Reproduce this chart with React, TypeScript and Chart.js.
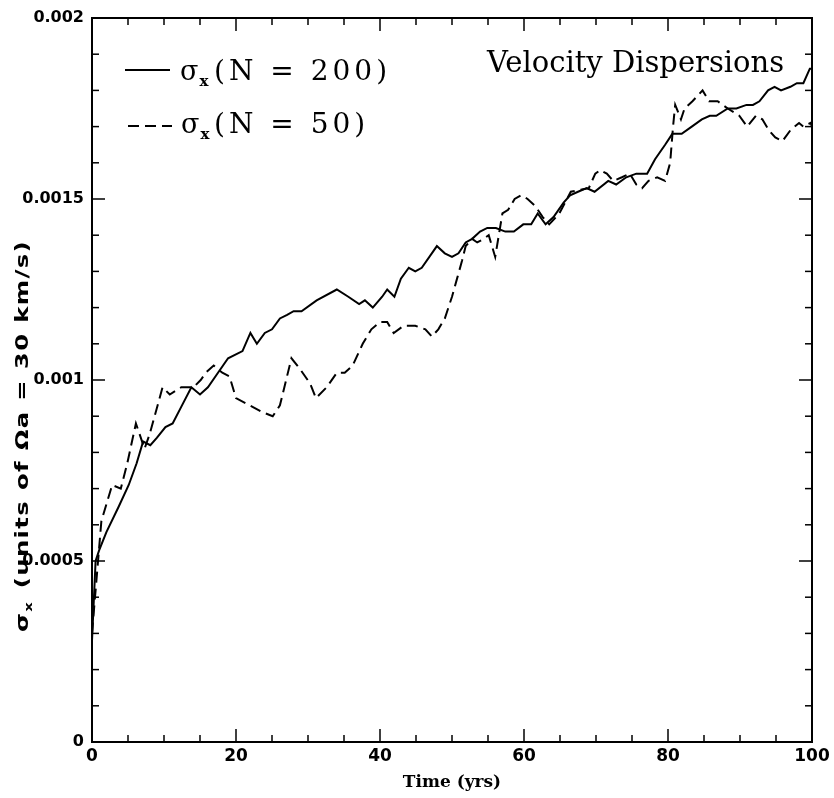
import React, { useEffect, useRef } from 'react';
import { Chart, registerables } from 'chart.js';

Chart.register(...registerables);

// N = 200 run (solid)
const t200 = [0, 0.5, 1.0, 2.0, 3.7, 5.1, 6.2, 7.1, 8.1, 9.0, 10.2, 11.2, 12.5, 13.8, 15.0, 16.1, 17.5, 18.9, 20.9, 22.0, 22.9, 24.0, 25.0, 26.1, 27.1, 28.0, 29.1, 31.2, 34.0, 35.6, 37.1, 37.9, 39.0, 40.3, 41.0, 42.0, 42.9, 44.0, 44.9, 45.8, 47.9, 49.0, 50.0, 50.9, 51.9, 52.8, 53.9, 54.9, 56.1, 57.4, 58.6, 59.9, 61.0, 61.9, 63.0, 64.1, 65.5, 66.4, 67.5, 68.7, 69.8, 71.7, 72.8, 74.2, 75.6, 77.1, 78.2, 79.6, 80.6, 81.9, 83.3, 84.7, 85.8, 86.7, 88.3, 89.5, 90.9, 91.8, 92.7, 93.9, 94.8, 95.7, 97.0, 97.9, 98.8, 99.7, 100];
const v200 = [0.00028, 0.0005, 0.00053, 0.00058, 0.00065, 0.00071, 0.00077, 0.00083, 0.00082, 0.00084, 0.00087, 0.00088, 0.00093, 0.00098, 0.00096, 0.00098, 0.00102, 0.00106, 0.00108, 0.00113, 0.0011, 0.00113, 0.00114, 0.00117, 0.00118, 0.00119, 0.00119, 0.00122, 0.00125, 0.00123, 0.00121, 0.00122, 0.0012, 0.00123, 0.00125, 0.00123, 0.00128, 0.00131, 0.0013, 0.00131, 0.00137, 0.00135, 0.00134, 0.00135, 0.00138, 0.00139, 0.00141, 0.00142, 0.00142, 0.00141, 0.00141, 0.00143, 0.00143, 0.00146, 0.00143, 0.00145, 0.00149, 0.00151, 0.00152, 0.00153, 0.00152, 0.00155, 0.00154, 0.00156, 0.00157, 0.00157, 0.00161, 0.00165, 0.00168, 0.00168, 0.0017, 0.00172, 0.00173, 0.00173, 0.00175, 0.00175, 0.00176, 0.00176, 0.00177, 0.0018, 0.00181, 0.0018, 0.00181, 0.00182, 0.00182, 0.00186, 0.00186];

// N = 50 run (dashed)
const t50 = [0, 1.3, 2.8, 4.0, 4.9, 6.1, 7.3, 8.0, 8.7, 9.8, 10.8, 12.4, 14.1, 15.1, 15.8, 16.9, 18.1, 19.1, 20.0, 21.9, 23.8, 25.1, 26.1, 27.7, 28.9, 30.3, 31.1, 32.6, 34.0, 35.1, 36.2, 37.6, 38.8, 40.0, 41.0, 41.9, 43.3, 44.9, 46.3, 47.2, 48.1, 49.0, 50.0, 50.7, 51.4, 51.9, 52.8, 53.5, 54.4, 55.1, 56.0, 56.5, 57.0, 57.8, 58.7, 59.6, 60.5, 61.6, 62.6, 63.5, 64.9, 66.5, 69.0, 69.9, 70.6, 71.5, 72.4, 73.6, 74.7, 75.6, 76.4, 77.3, 78.5, 79.6, 80.3, 80.7, 81.0, 81.8, 82.3, 83.4, 84.8, 85.7, 86.9, 88.3, 89.9, 91.0, 92.2, 93.1, 94.0, 94.9, 95.9, 97.0, 98.2, 98.8, 99.8, 100];
const v50 = [0.0003, 0.00061, 0.00071, 0.0007, 0.00077, 0.00088, 0.00081, 0.00085, 0.0009, 0.00098, 0.00096, 0.00098, 0.00098, 0.001, 0.00102, 0.00104, 0.00102, 0.00101, 0.00095, 0.00093, 0.00091, 0.0009, 0.00093, 0.00106, 0.00103, 0.00099, 0.00095, 0.00098, 0.00102, 0.00102, 0.00104, 0.0011, 0.00114, 0.00116, 0.00116, 0.00113, 0.00115, 0.00115, 0.00114, 0.00112, 0.00114, 0.00117, 0.00123, 0.00128, 0.00133, 0.00137, 0.00139, 0.00138, 0.00139, 0.0014, 0.00134, 0.0014, 0.00146, 0.00147, 0.0015, 0.00151, 0.0015, 0.00148, 0.00145, 0.00143, 0.00146, 0.00152, 0.00153, 0.00157, 0.00158, 0.00157, 0.00155, 0.00156, 0.00157, 0.00154, 0.00153, 0.00155, 0.00156, 0.00155, 0.0016, 0.0017, 0.00176, 0.00172, 0.00175, 0.00177, 0.0018, 0.00177, 0.00177, 0.00175, 0.00173, 0.0017, 0.00173, 0.00172, 0.00169, 0.00167, 0.00166, 0.00169, 0.00171, 0.0017, 0.00171, 0.0017];

const xMin = 0;
const xMax = 100;
const xStep = 20;
const xMinorStep = 5;
const yMin = 0;
const yMax = 0.002;
const yStep = 0.0005;
const yMinorStep = 0.0001;

const sigma = 'σ';
const sub = 'x';
const legendLabels = ['(N = 200)', '(N = 50)'];
const titleText = 'Velocity Dispersions';
const xTitle = 'Time (yrs)';
const yTitleRest = ' (units of Ωa = 30 km/s)';

export default function App() {
  const ref = useRef<HTMLCanvasElement | null>(null);

  useEffect(() => {
    const canvas = ref.current;
    if (!canvas) return;

    const decor = {
      id: 'decor',
      afterDraw(chart: any) {
        const { ctx, chartArea: a, scales } = chart;
        const x = scales.x;
        const y = scales.y;
        ctx.save();
        ctx.strokeStyle = '#000';
        ctx.fillStyle = '#000';
        ctx.setLineDash([]);
        // frame
        ctx.lineWidth = 2;
        ctx.strokeRect(a.left, a.top, a.right - a.left, a.bottom - a.top);
        // ticks
        ctx.lineWidth = 1.5;
        const seg = (x1: number, y1: number, x2: number, y2: number) => {
          ctx.beginPath();
          ctx.moveTo(x1, y1);
          ctx.lineTo(x2, y2);
          ctx.stroke();
        };
        const nx = Math.round((xMax - xMin) / xMinorStep);
        for (let i = 0; i <= nx; i++) {
          const v = xMin + i * xMinorStep;
          const px = x.getPixelForValue(v);
          const major = i % Math.round(xStep / xMinorStep) === 0;
          const L = major ? 13 : 7;
          seg(px, a.bottom, px, a.bottom - L);
          seg(px, a.top, px, a.top + L);
        }
        const ny = Math.round((yMax - yMin) / yMinorStep);
        for (let i = 0; i <= ny; i++) {
          const v = yMin + i * yMinorStep;
          const py = y.getPixelForValue(v);
          const major = i % Math.round(yStep / yMinorStep) === 0;
          const L = major ? 13 : 7;
          seg(a.left, py, a.left + L, py);
          seg(a.right, py, a.right - L, py);
        }

        // legend samples
        ctx.lineWidth = 2;
        seg(125, 70, 170, 70);
        ctx.setLineDash([11, 6]);
        seg(128, 126, 172, 126);
        ctx.setLineDash([]);

        const drawLegend = (xs: number, base: number, label: string) => {
          ctx.font = '27px "DejaVu Serif"';
          (ctx as any).letterSpacing = '0px';
          ctx.textAlign = 'left';
          ctx.textBaseline = 'alphabetic';
          ctx.fillText(sigma, xs, base);
          const w = ctx.measureText(sigma).width;
          ctx.font = 'bold 15px "DejaVu Serif"';
          ctx.fillText(sub, xs + w + 1, base + 6);
          ctx.font = '28px "DejaVu Serif"';
          (ctx as any).letterSpacing = '4px';
          ctx.fillText(label, 214, base);
          (ctx as any).letterSpacing = '0px';
        };
        drawLegend(180, 80, legendLabels[0]);
        drawLegend(181, 133, legendLabels[1]);

        ctx.font = '29px "DejaVu Serif"';
        ctx.textAlign = 'left';
        ctx.fillText(titleText, 487, 72);

        // x title
        ctx.font = 'bold 17px "DejaVu Serif"';
        ctx.textAlign = 'center';
        ctx.fillText(xTitle, (a.left + a.right) / 2, 787);

        // y title (rotated, stretched along its length)
        ctx.save();
        ctx.translate(21, 436);
        ctx.rotate(-Math.PI / 2);
        ctx.textAlign = 'left';
        const bigFont = 'bold 18px "DejaVu Sans"';
        const subFont = 'bold 11px "DejaVu Sans"';
        (ctx as any).letterSpacing = '1px';
        ctx.font = bigFont;
        const ws = ctx.measureText(sigma).width;
        const wr = ctx.measureText(yTitleRest).width;
        ctx.font = subFont;
        const wsub = ctx.measureText(sub).width;
        const natural = ws + wsub + wr + 2;
        const target = 392;
        const sc = target / natural;
        ctx.scale(sc, 1);
        const start = -natural / 2;
        ctx.font = bigFont;
        ctx.fillText(sigma, start, 7);
        ctx.font = subFont;
        ctx.fillText(sub, start + ws, 11);
        ctx.font = bigFont;
        ctx.fillText(yTitleRest, start + ws + wsub + 2, 7);
        (ctx as any).letterSpacing = '0px';
        ctx.restore();

        ctx.restore();
      },
    };

    const chart = new Chart(canvas, {
      type: 'line',
      data: {
        datasets: [
          {
            label: 'N = 200',
            data: t200.map((t, i) => ({ x: t, y: v200[i] })),
            borderColor: '#000',
            borderWidth: 2,
            pointRadius: 0,
            tension: 0,
            fill: false,
          },
          {
            label: 'N = 50',
            data: t50.map((t, i) => ({ x: t, y: v50[i] })),
            borderColor: '#000',
            borderWidth: 2,
            borderDash: [11, 6],
            pointRadius: 0,
            tension: 0,
            fill: false,
          },
        ],
      },
      options: {
        responsive: false,
        animation: false,
        devicePixelRatio: 1,
        layout: { padding: { top: 18, right: 22, left: 0, bottom: 0 } },
        plugins: {
          legend: { display: false },
          tooltip: { enabled: false },
          title: { display: false },
        },
        scales: {
          x: {
            type: 'linear',
            min: xMin,
            max: xMax,
            grid: { display: false, drawTicks: false },
            border: { display: false },
            ticks: {
              stepSize: xStep,
              color: '#000',
              padding: 4,
              maxRotation: 0,
              font: { family: 'DejaVu Sans', weight: 'bold', size: 17 },
            },
            afterFit(s: any) {
              s.height = 56;
            },
          },
          y: {
            type: 'linear',
            min: yMin,
            max: yMax,
            grid: { display: false, drawTicks: false },
            border: { display: false },
            ticks: {
              stepSize: yStep,
              color: '#000',
              padding: 8,
              font: { family: 'DejaVu Sans', weight: 'bold', size: 16 },
              callback: (v: any) => String(Number(Number(v).toFixed(4))),
            },
            afterFit(s: any) {
              s.width = 92;
            },
          },
        },
      },
      plugins: [decor],
    } as any);

    return () => chart.destroy();
  }, []);

  return (
    <div style={{ position: 'fixed', left: 0, top: 0, width: 834, height: 798, background: '#fff' }}>
      <canvas ref={ref} width={834} height={798} style={{ display: 'block', width: 834, height: 798 }} />
    </div>
  );
}
